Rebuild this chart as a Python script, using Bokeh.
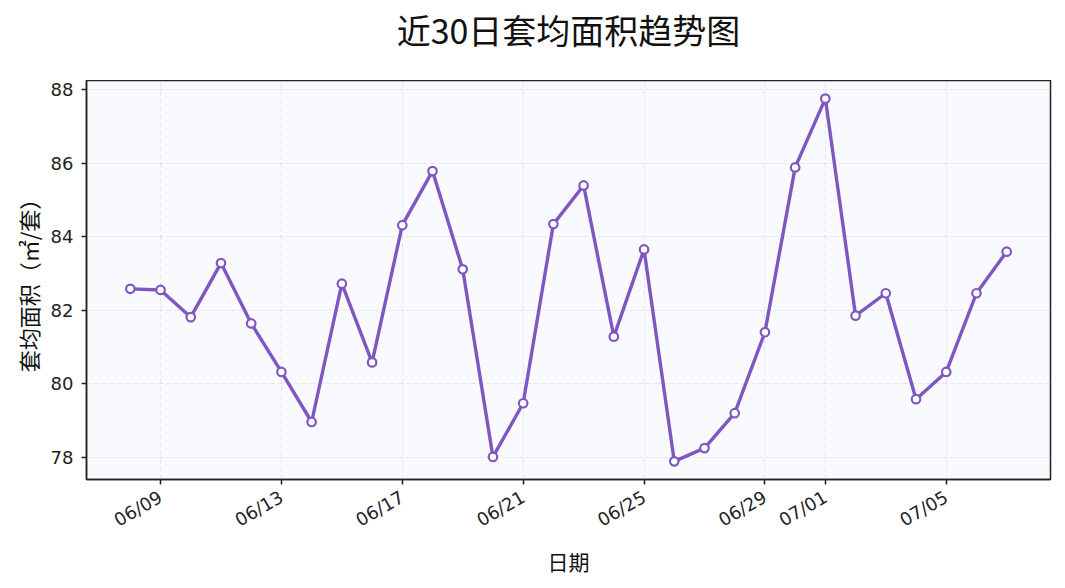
import math
import pandas as pd
from bokeh.plotting import figure
from bokeh.layouts import column
from bokeh.models import Range1d, FixedTicker, DatetimeTickFormatter, ColumnDataSource
from bokeh.embed import file_html
from bokeh.resources import INLINE

# ---- data ----
dates = ["2024-06-08", "2024-06-09", "2024-06-10", "2024-06-11", "2024-06-12",
         "2024-06-13", "2024-06-14", "2024-06-15", "2024-06-16", "2024-06-17",
         "2024-06-18", "2024-06-19", "2024-06-20", "2024-06-21", "2024-06-22",
         "2024-06-23", "2024-06-24", "2024-06-25", "2024-06-26", "2024-06-27",
         "2024-06-28", "2024-06-29", "2024-06-30", "2024-07-01", "2024-07-02",
         "2024-07-03", "2024-07-04", "2024-07-05", "2024-07-06", "2024-07-07"]
avg_area = [82.58, 82.55, 81.81, 83.28, 81.64, 80.32, 78.96, 82.72, 80.58, 84.31,
            85.78, 83.11, 78.01, 79.47, 84.34, 85.39, 81.28, 83.65, 77.89, 78.25,
            79.20, 81.40, 85.88, 87.75, 81.85, 82.46, 79.58, 80.32, 82.46, 83.59]
x_tick_dates = ["2024-06-09", "2024-06-13", "2024-06-17", "2024-06-21",
                "2024-06-25", "2024-06-29", "2024-07-01", "2024-07-05"]
y_ticks = [78, 80, 82, 84, 86, 88]

title_text = "近30日套均面积趋势图"
x_label = "日期"
y_label = "套均面积（㎡/套）"

# ---- styling ----
LINE = "#7E57C2"
CJK = "Noto Sans CJK SC"
TICKF = "DejaVu Sans"
W = 1057
TITLE_H = 80
MAIN_H = 500
BL, BR, BB = 86, 7, 101

# ---- title strip (a plot that only carries the title) ----
tf = figure(width=W, height=TITLE_H, x_range=(0, 1), y_range=(0, 1),
            output_backend="svg", toolbar_location=None,
            min_border_left=BL, min_border_right=BR, min_border_top=0, min_border_bottom=0)
tf.axis.visible = False
tf.grid.visible = False
tf.outline_line_color = None
tf.background_fill_color = "white"
tf.border_fill_color = "white"
tf.title.text = title_text
tf.title.align = "center"
tf.title.text_font = CJK
tf.title.text_font_size = "34px"
tf.title.text_font_style = "normal"
tf.title.text_color = "#111111"
tf.title.offset = 0
tf.title.standoff = 4

# ---- main plot ----
x = pd.to_datetime(dates)
src = ColumnDataSource(dict(x=x, y=avg_area))

span = x[-1] - x[0]
pad = span * 0.05
xr = Range1d(start=x[0] - pad, end=x[-1] + pad)
ymin, ymax = min(avg_area), max(avg_area)
ypad = (ymax - ymin) * 0.05
yr = Range1d(start=ymin - ypad, end=ymax + ypad)

p = figure(width=W, height=MAIN_H, x_axis_type="datetime",
           x_range=xr, y_range=yr, output_backend="svg", toolbar_location=None,
           min_border_left=BL, min_border_right=BR, min_border_top=0, min_border_bottom=BB)

p.background_fill_color = "#F8FAFD"
p.border_fill_color = "white"
p.outline_line_color = "#222222"
p.outline_line_width = 1.5

p.line("x", "y", source=src, line_color=LINE, line_width=3.4, line_join="round")
p.scatter("x", "y", source=src, size=8.5, fill_color="white", line_color=LINE, line_width=2.2)

tick_ms = [int(pd.Timestamp(d).value // 10**6) for d in x_tick_dates]
p.xaxis.ticker = FixedTicker(ticks=tick_ms)
fmt = "%m/%d"
p.xaxis.formatter = DatetimeTickFormatter(milliseconds=fmt, seconds=fmt, minsec=fmt, minutes=fmt,
                                          hourmin=fmt, hours=fmt, days=fmt, months=fmt, years=fmt)
p.yaxis.ticker = FixedTicker(ticks=y_ticks)

p.xaxis.major_label_orientation = math.pi / 6

for ax in (p.xaxis[0], p.yaxis[0]):
    ax.axis_line_color = "#222222"
    ax.axis_line_width = 1.5
    ax.major_tick_line_color = "#222222"
    ax.major_tick_line_width = 1.5
    ax.major_tick_out = 5
    ax.major_tick_in = 0
    ax.minor_tick_line_color = None
    ax.major_label_text_font = TICKF
    ax.major_label_text_font_size = "18px"
    ax.major_label_text_color = "#222222"
    ax.axis_label_text_font = CJK
    ax.axis_label_text_font_size = "21px"
    ax.axis_label_text_font_style = "normal"
    ax.axis_label_text_color = "#111111"

p.yaxis.axis_label_text_font_size = "22px"
p.xaxis.axis_label = x_label
p.yaxis.axis_label = y_label
p.xaxis.axis_label_standoff = 3
p.yaxis.axis_label_standoff = 4
p.xaxis.major_label_standoff = 11
p.yaxis.major_label_standoff = 8

p.xgrid.grid_line_color = "#D8DEE8"
p.ygrid.grid_line_color = "#D8DEE8"
p.xgrid.grid_line_dash = "5 3"
p.ygrid.grid_line_dash = "5 3"
p.xgrid.grid_line_alpha = 0.7
p.ygrid.grid_line_alpha = 0.7

layout = column(tf, p, spacing=0)
open("out.html", "w").write(file_html(layout, INLINE))
